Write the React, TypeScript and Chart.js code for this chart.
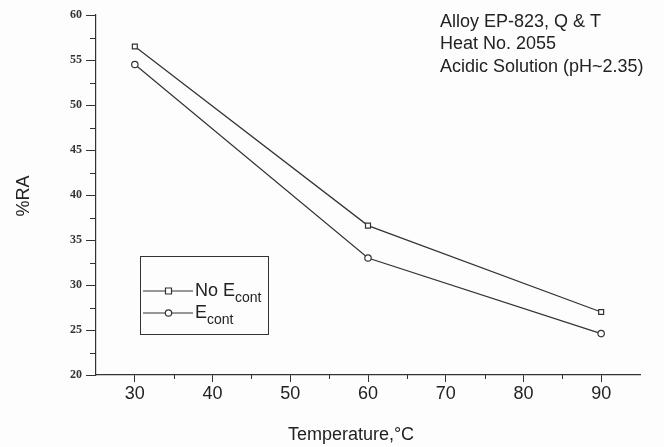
import { useEffect, useRef } from "react";
import { Chart, registerables } from "chart.js";
Chart.register(...registerables);

const temperatures = [30, 60, 90];
const raNoEcont = [56.5, 36.6, 27.0];
const raEcont = [54.5, 33.0, 24.6];
const xMajorTicks = [30, 40, 50, 60, 70, 80, 90];
const xMinorTicks = [35, 45, 55, 65, 75, 85];
const yMajorTicks = [20, 25, 30, 35, 40, 45, 50, 55, 60];
const yMinorTicks = [22.5, 27.5, 32.5, 37.5, 42.5, 47.5, 52.5, 57.5];
const noteLines = ["Alloy EP-823, Q & T", "Heat No. 2055", "Acidic Solution (pH~2.35)"];
const xTitle = "Temperature,\u00B0C";
const yTitle = "%RA";
const legendMain = ["No E", "E"];
const legendSub = ["cont", "cont"];
const legendStyles = ["rect", "circle"];

const INK = "#333";
const SANS = '"Liberation Sans", Arial, sans-serif';

const decor = {
  id: "decor",
  beforeDraw(chart: any) {
    const ctx = chart.ctx;
    ctx.save();
    ctx.fillStyle = "#fdfdfd";
    ctx.fillRect(0, 0, chart.width, chart.height);
    ctx.restore();
  },
  afterDraw(chart: any) {
    const ctx = chart.ctx;
    const xs = chart.scales.x;
    const ys = chart.scales.y;
    const area = chart.chartArea;
    ctx.save();
    ctx.strokeStyle = INK;
    ctx.lineWidth = 1;
    // minor ticks
    ctx.beginPath();
    xMinorTicks.forEach((v) => {
      const px = Math.round(xs.getPixelForValue(v)) + 0.5;
      ctx.moveTo(px, area.bottom);
      ctx.lineTo(px, area.bottom + 4);
    });
    yMinorTicks.forEach((v) => {
      const py = Math.round(ys.getPixelForValue(v)) + 0.5;
      ctx.moveTo(area.left - 6, py);
      ctx.lineTo(area.left, py);
    });
    ctx.stroke();

    // axis titles
    ctx.fillStyle = "#222";
    ctx.font = "18px " + SANS;
    ctx.textAlign = "center";
    ctx.textBaseline = "middle";
    ctx.fillText(xTitle, 351, 435);
    ctx.save();
    ctx.translate(24, (area.top + area.bottom) / 2 + 1);
    ctx.rotate(-Math.PI / 2);
    ctx.fillText(yTitle, 0, 0);
    ctx.restore();

    // note
    ctx.textAlign = "left";
    noteLines.forEach((t, i) => ctx.fillText(t, 440, 22 + i * 22.3));

    // legend box
    ctx.strokeStyle = INK;
    ctx.strokeRect(140.5, 256.5, 128, 78);
    const rows = [291, 313];
    rows.forEach((ry, i) => {
      ctx.beginPath();
      ctx.lineWidth = 1.2;
      ctx.moveTo(143, ry);
      ctx.lineTo(193, ry);
      ctx.stroke();
      ctx.fillStyle = "#fff";
      ctx.beginPath();
      if (legendStyles[i] === "rect") {
        ctx.rect(165.5, ry - 3, 6, 6);
      } else {
        ctx.arc(168.5, ry, 3.2, 0, Math.PI * 2);
      }
      ctx.fill();
      ctx.stroke();
      ctx.fillStyle = "#222";
      ctx.font = "18px " + SANS;
      ctx.textAlign = "left";
      ctx.fillText(legendMain[i], 195, ry);
      const w = ctx.measureText(legendMain[i]).width;
      ctx.font = "14px " + SANS;
      ctx.fillText(legendSub[i], 195 + w, ry + 7);
    });
    ctx.restore();
  },
};

export default function App() {
  const ref = useRef<HTMLCanvasElement | null>(null);
  useEffect(() => {
    if (!ref.current) return;
    const chart = new Chart(ref.current, {
      type: "scatter",
      data: {
        datasets: [
          {
            label: "No Econt",
            data: temperatures.map((t, i) => ({ x: t, y: raNoEcont[i] })),
            showLine: true,
            borderColor: INK,
            borderWidth: 1.2,
            pointStyle: "rect",
            pointRadius: 3.5,
            pointBackgroundColor: "#fff",
            pointBorderColor: INK,
            pointBorderWidth: 1.2,
          },
          {
            label: "Econt",
            data: temperatures.map((t, i) => ({ x: t, y: raEcont[i] })),
            showLine: true,
            borderColor: INK,
            borderWidth: 1.2,
            pointStyle: "circle",
            pointRadius: 3.2,
            pointBackgroundColor: "#fff",
            pointBorderColor: INK,
            pointBorderWidth: 1.2,
          },
        ],
      },
      options: {
        animation: false,
        responsive: false,
        layout: { padding: { left: 0, right: 24, top: 15, bottom: 0 } },
        plugins: { legend: { display: false }, tooltip: { enabled: false } },
        scales: {
          x: {
            type: "linear",
            min: 25,
            max: 95,
            afterBuildTicks: (s: any) => {
              s.ticks = xMajorTicks.map((v) => ({ value: v }));
            },
            afterFit: (s: any) => {
              s.height = 72;
            },
            grid: { drawOnChartArea: false, drawTicks: true, tickLength: 7, color: INK, tickColor: INK },
            border: { display: true, color: INK, width: 1.2 },
            ticks: { color: "#222", font: { family: SANS, size: 18 }, padding: 1, maxRotation: 0 },
          },
          y: {
            type: "linear",
            min: 20,
            max: 60,
            afterBuildTicks: (s: any) => {
              s.ticks = yMajorTicks.map((v) => ({ value: v }));
            },
            afterFit: (s: any) => {
              s.width = 96;
            },
            grid: { drawOnChartArea: false, drawTicks: true, tickLength: 10, color: INK, tickColor: INK },
            border: { display: true, color: INK, width: 1.2 },
            ticks: {
              color: "#333",
              font: { family: '"Liberation Serif", serif', size: 12, weight: "bold" },
              padding: 4,
            },
          },
        },
      },
      plugins: [decor],
    });
    return () => chart.destroy();
  }, []);
  return (
    <div style={{ position: "fixed", left: 0, top: 0, width: 664, height: 447 }}>
      <canvas ref={ref} width={664} height={447} style={{ display: "block" }} />
    </div>
  );
}
